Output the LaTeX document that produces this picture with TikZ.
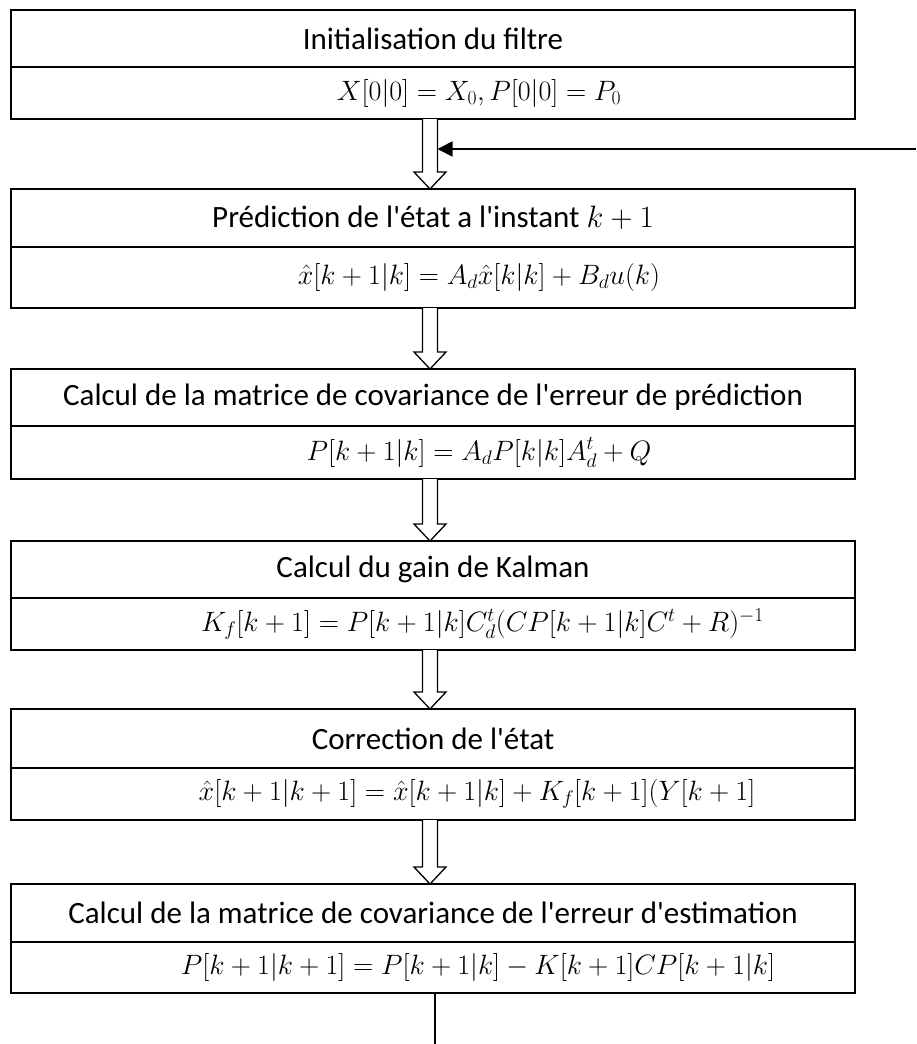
\RequirePackage{fix-cm}
\documentclass[tikz,border=0pt]{standalone}
\usepackage{fontspec}
\setmainfont{Carlito}
\usetikzlibrary{arrows.meta,calc}
\newcommand{\ap}{\textquotesingle}
\newcommand{\fshift}[2]{\hspace*{#1}$#2$}
\tikzset{
  boxpart/.style={draw, line width=1.5pt, minimum width=844pt, text width=844pt, align=flush center, inner sep=0pt, outer sep=0pt},
  titlebox/.style={boxpart, font=\fontsize{31}{36}\selectfont},
  formbox/.style={boxpart, font=\fontsize{28}{33}\selectfont},
  hollowarrow/.style={draw, line width=1.3pt, fill=white, line join=miter},
  feedback/.style={line width=1.8pt, -{Triangle[length=15pt,width=15pt]}},
  loopline/.style={line width=1.3pt}
}
\newcommand{\harrow}[2]{%
  \draw[hollowarrow] ($(#1.south)+(-10.5,0)$) -- ($(#2.north)+(-10.5,-17)$) -- ($(#2.north)+(-19,-17)$) -- ($(#2.north)+(-3,0)$) -- ($(#2.north)+(13,-17)$) -- ($(#2.north)+(4.5,-17)$) -- ($(#1.south)+(4.5,0)$);}
\begin{document}
\begin{tikzpicture}[x=1pt,y=-1pt]
\useasboundingbox (0,0) rectangle (916,1044);
% box 1
\node[titlebox, minimum height=57pt] (t1) at (433,38.5) {Initialisation du filtre};
\node[formbox, minimum height=52pt] (f1) at (433,93) {\fshift{92pt}{X[0|0]=X_0, P[0|0]=P_0}};
% box 2
\node[titlebox, minimum height=58pt] (t2) at (433,218) {Prédiction de l\ap état a l\ap instant $k+1$};
\node[formbox, minimum height=61pt] (f2) at (433,277.5) {\fshift{92pt}{\hat{x}[k+1|k]=A_d\hat{x}[k|k]+B_du(k)}};
% box 3
\node[titlebox, minimum height=57pt] (t3) at (433,397.5) {Calcul de la matrice de covariance de l\ap erreur de prédiction};
\node[formbox, minimum height=53pt] (f3) at (433,452.5) {\fshift{92pt}{P[k+1|k]=A_dP[k|k]A_d^t+Q}};
% box 4
\node[titlebox, minimum height=57pt] (t4) at (433,569.5) {Calcul du gain de Kalman};
\node[formbox, minimum height=52pt] (f4) at (433,624) {\fshift{99pt}{K_f[k+1]=P[k+1|k]C_d^t(CP[k+1|k]C^t+R)^{-1}}};
% box 5
\node[titlebox, minimum height=59pt] (t5) at (433,738.5) {Correction de l\ap état};
\node[formbox, minimum height=52pt] (f5) at (433,794) {\fshift{88pt}{\hat{x}[k+1|k+1]=\hat{x}[k+1|k]+K_f[k+1](Y[k+1]}};
% box 6
\node[titlebox, minimum height=58pt] (t6) at (433,913) {Calcul de la matrice de covariance de l\ap erreur d\ap estimation};
\node[formbox, minimum height=51pt] (f6) at (433,967.5) {\fshift{90pt}{P[k+1|k+1]=P[k+1|k]-K[k+1]CP[k+1|k]}};
% hollow arrows
\harrow{f1}{t2}
\harrow{f2}{t3}
\harrow{f3}{t4}
\harrow{f4}{t5}
\harrow{f5}{t6}
% feedback
\coordinate (fbstart) at (916,149);
\coordinate (fbend) at (437.5,149);
\draw[feedback] (fbstart) -- (fbend);
\coordinate (loopend) at (435,1044);
\draw[loopline] (f6.south -| loopend) -- (loopend);
\end{tikzpicture}
\end{document}
